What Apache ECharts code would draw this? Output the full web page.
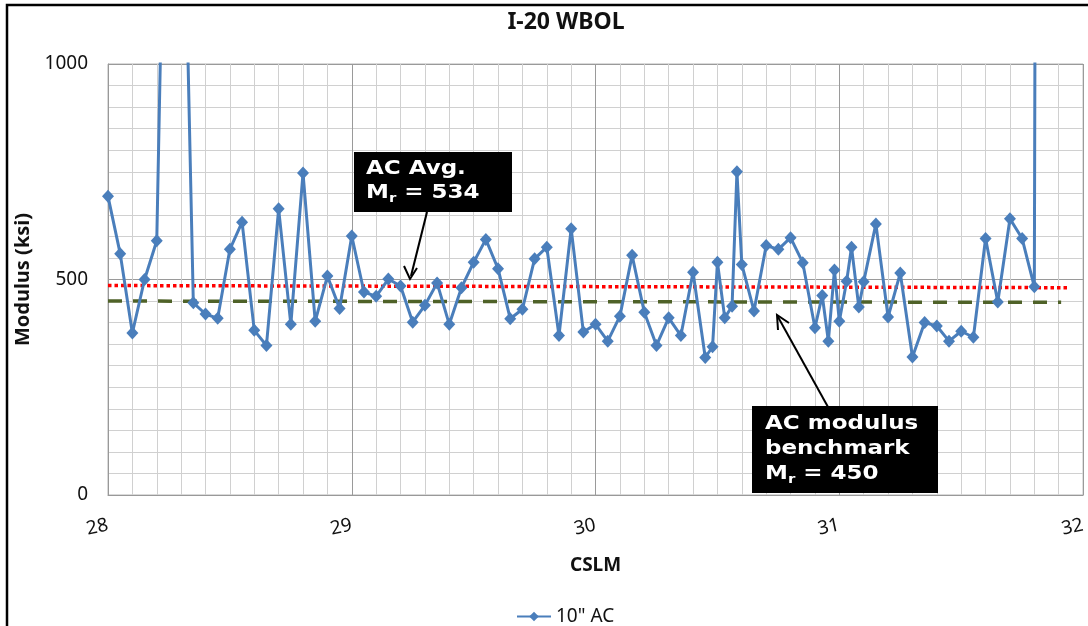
<!DOCTYPE html>
<html>
<head>
<meta charset="utf-8">
<script src="https://cdn.jsdelivr.net/npm/echarts@6/dist/echarts.min.js"></script>
<style>html,body{margin:0;padding:0;background:#fff;}#c{width:1088px;height:626px;}</style>
</head>
<body>
<div id="c"></div>
<script>
// ---- data ----
const titleText = 'I-20 WBOL';
const seriesName = '10" AC';
const xValues = [28.00, 28.05, 28.10, 28.15, 28.20, 28.25, 28.30, 28.35, 28.40, 28.45,
  28.50, 28.55, 28.60, 28.65, 28.70, 28.75, 28.80, 28.85, 28.90, 28.95,
  29.00, 29.05, 29.10, 29.15, 29.20, 29.25, 29.30, 29.35, 29.40, 29.45,
  29.50, 29.55, 29.60, 29.65, 29.70, 29.75, 29.80, 29.85, 29.90, 29.95,
  30.00, 30.05, 30.10, 30.15, 30.20, 30.25, 30.30, 30.35, 30.40, 30.45,
  30.48, 30.50, 30.53, 30.56, 30.58, 30.60, 30.65, 30.70, 30.75, 30.80,
  30.85, 30.90, 30.93, 30.955, 30.98, 31.00, 31.03, 31.05, 31.08, 31.10,
  31.15, 31.20, 31.25, 31.30, 31.35, 31.40, 31.45, 31.50, 31.55, 31.60,
  31.65, 31.70, 31.75, 31.80, 31.82];
const yValues = [693, 560, 376, 500, 590, 2020, 1740, 446, 420, 410,
  570, 633, 382, 347, 664, 396, 747, 403, 508, 433,
  601, 471, 461, 501, 485, 401, 440, 492, 396, 481,
  540, 593, 525, 409, 431, 548, 575, 370, 618, 378,
  396, 357, 415, 556, 424, 347, 411, 370, 517, 319,
  344, 540, 411, 438, 750, 535, 427, 579, 570, 597,
  539, 388, 463, 357, 522, 403, 496, 575, 436, 495,
  629, 413, 515, 320, 400, 392, 357, 380, 366, 595,
  448, 641, 595, 483, 5000];
const avgLineX = [28.0, 31.94];
const avgLineY = [486, 481];
const benchLineX = [28.0, 31.91];
const benchLineY = [450, 447];
const xTicks = [28, 29, 30, 31, 32];
const yTicks = [0, 500, 1000];
const xAxisName = 'CSLM';
const yAxisName = 'Modulus (ksi)';

const pairs = (xs, ys) => xs.map((x, i) => [x, ys[i]]);
const FONT = 'Noto Sans';
const ANNO = 'DejaVu Sans';
const chart = echarts.init(document.getElementById('c'), null, {renderer: 'canvas'});

const richAnno = (lh) => ({
  a: {fontFamily: ANNO, fontWeight: 'bold', fontSize: 20, fill: '#fff', lineHeight: lh, verticalAlign: 'middle'},
  s: {fontFamily: ANNO, fontWeight: 'bold', fontSize: 13, fill: '#fff', lineHeight: 8, verticalAlign: 'bottom'}
});

const option = {
  animation: false,
  backgroundColor: '#fff',
  title: {
    text: titleText, left: 561, top: 6, textAlign: 'center',
    textStyle: {fontFamily: FONT, fontWeight: 'bold', fontSize: 23, color: '#111'}
  },
  grid: {left: 108, right: 3, top: 64, bottom: 131, show: true, borderColor: '#b5b5b5', borderWidth: 1},
  legend: {
    data: [seriesName], left: 511, top: 602, itemWidth: 34, itemHeight: 12, itemGap: 4,
    textStyle: {fontFamily: FONT, fontSize: 19, color: '#111'}
  },
  xAxis: {
    type: 'value', min: xTicks[0], max: xTicks[xTicks.length - 1], interval: 1,
    name: xAxisName, nameLocation: 'middle', nameGap: 61,
    nameTextStyle: {fontFamily: FONT, fontWeight: 'bold', fontSize: 19, color: '#111'},
    axisLine: {show: true, lineStyle: {color: '#999'}},
    axisTick: {show: false},
    axisLabel: {fontFamily: FONT, fontSize: 19, color: '#111', margin: 30, rotate: 12},
    splitLine: {show: true, lineStyle: {color: '#9a9a9a', width: 1}},
    minorTick: {show: false, splitNumber: 10},
    minorSplitLine: {show: true, lineStyle: {color: '#d0d0d0', width: 1}}
  },
  yAxis: {
    type: 'value', min: yTicks[0], max: yTicks[yTicks.length - 1], interval: 500,
    name: yAxisName, nameLocation: 'middle', nameGap: 70, nameRotate: 90,
    nameTextStyle: {fontFamily: FONT, fontWeight: 'bold', fontSize: 20, color: '#111'},
    axisLine: {show: true, lineStyle: {color: '#999'}},
    axisTick: {show: false},
    axisLabel: {fontFamily: FONT, fontSize: 19, color: '#111', margin: 20, formatter: (v) => String(v)},
    splitLine: {show: true, lineStyle: {color: '#9a9a9a', width: 1}},
    minorTick: {show: false, splitNumber: 10},
    minorSplitLine: {show: true, lineStyle: {color: '#d0d0d0', width: 1}}
  },
  series: [
    {
      name: 'avg', type: 'line', data: pairs(avgLineX, avgLineY), symbol: 'none', silent: true,
      lineStyle: {color: '#ff0000', width: 3.5, type: [3.5, 3]}, z: 3
    },
    {
      name: 'bench', type: 'line', data: pairs(benchLineX, benchLineY), symbol: 'none', silent: true,
      lineStyle: {color: '#4f6228', width: 3.5, type: [14, 11]}, z: 3
    },
    {
      name: seriesName, type: 'line', data: pairs(xValues, yValues), clip: true,
      symbol: 'diamond', symbolSize: [12, 13],
      itemStyle: {color: '#4a7ebb'},
      lineStyle: {color: '#4a7ebb', width: 3}, z: 4
    }
  ],
  graphic: [
    {type: 'rect', shape: {x: 7, y: 5, width: 1200, height: 800}, style: {fill: 'none', stroke: '#000', lineWidth: 2.5}, z: 100},
    // annotation 1
    {type: 'line', shape: {x1: 427, y1: 212, x2: 411, y2: 276}, style: {stroke: '#000', lineWidth: 2}, z: 100},
    {type: 'polyline', shape: {points: [[404, 266], [410, 279], [417, 268]]}, style: {stroke: '#000', lineWidth: 2, fill: 'none'}, z: 100},
    {type: 'rect', shape: {x: 354, y: 152, width: 158, height: 60}, style: {fill: '#000'}, z: 100},
    {type: 'text', x: 366, y: 157, scaleX: 1.15, z: 101, style: {
      text: '{a|AC Avg.}\n{a|M}{s|r}{a| = 534}', fill: '#fff', rich: richAnno(24)
    }},
    // annotation 2
    {type: 'line', shape: {x1: 828, y1: 407, x2: 778, y2: 317}, style: {stroke: '#000', lineWidth: 2}, z: 100},
    {type: 'polyline', shape: {points: [[778, 330], [777, 315], [789, 323]]}, style: {stroke: '#000', lineWidth: 2, fill: 'none'}, z: 100},
    {type: 'rect', shape: {x: 752, y: 406, width: 186, height: 87}, style: {fill: '#000'}, z: 100},
    {type: 'text', x: 765, y: 411, scaleX: 1.15, z: 101, style: {
      text: '{a|AC modulus}\n{a|benchmark}\n{a|M}{s|r}{a| = 450}', fill: '#fff', rich: richAnno(25)
    }}
  ]
};
chart.setOption(option);
</script>
</body>
</html>
